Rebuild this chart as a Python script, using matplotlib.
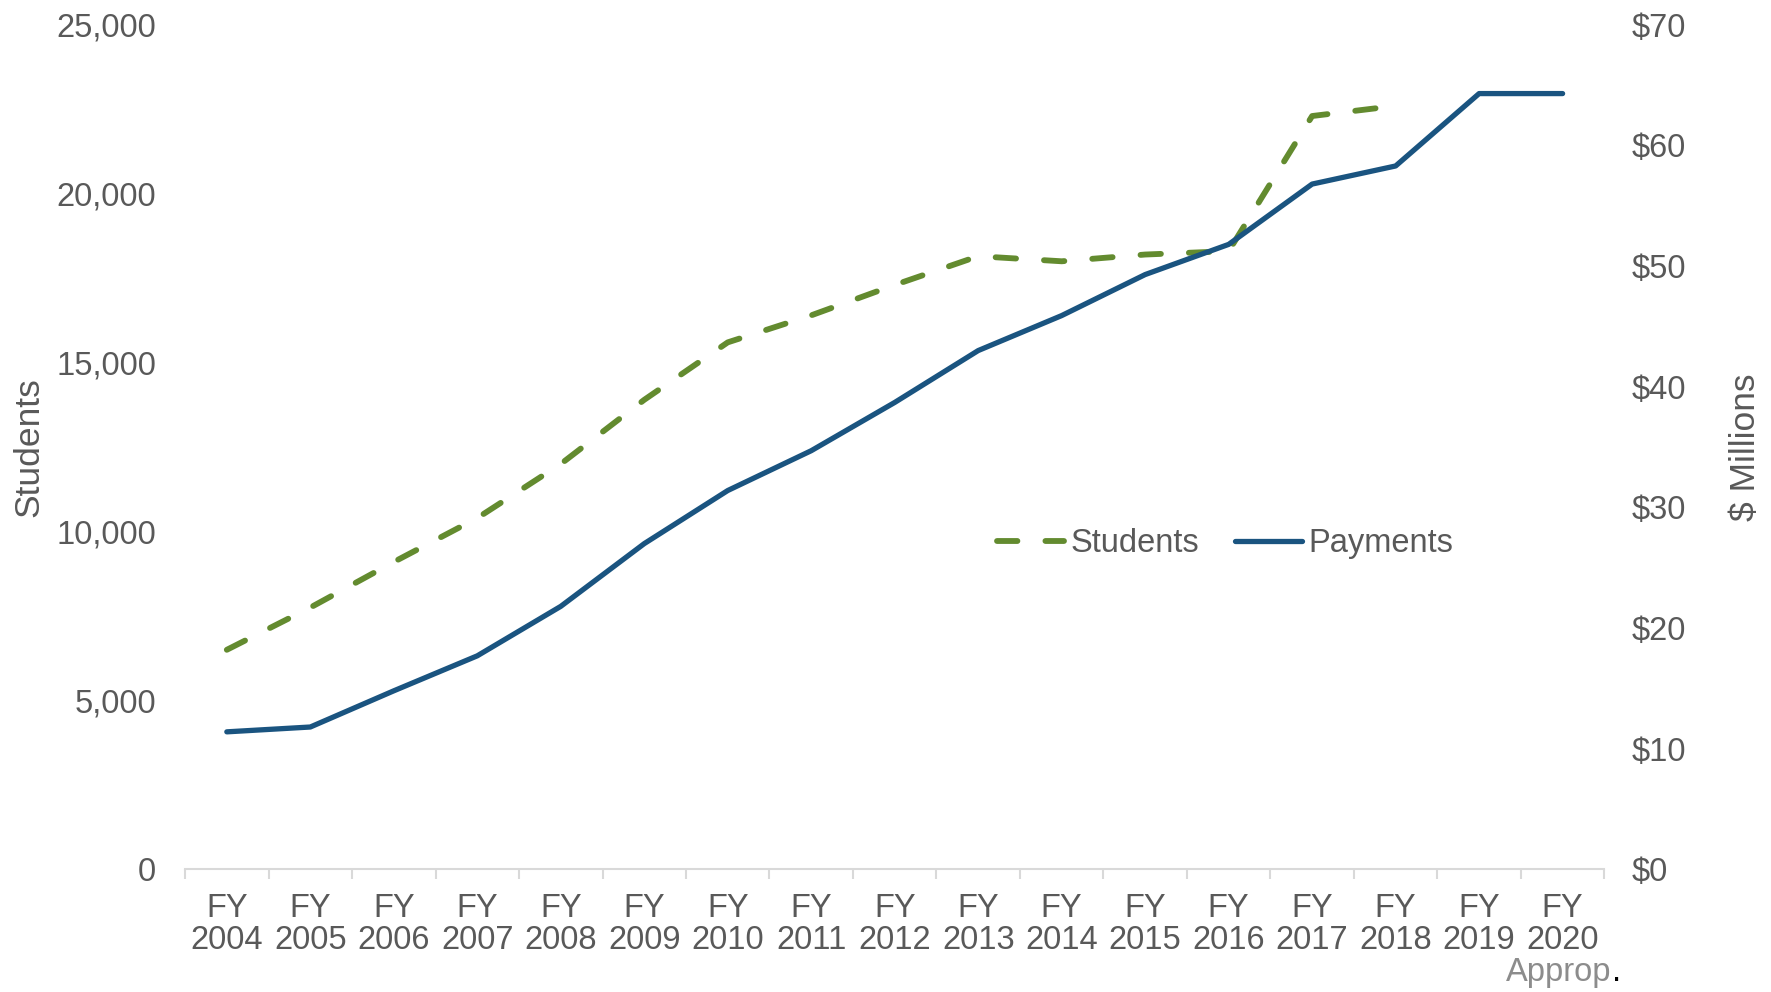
import matplotlib.pyplot as plt
import numpy as np

plt.rcParams["font.family"] = ["Liberation Sans", "DejaVu Sans"]

# === data ===
years = ["2004", "2005", "2006", "2007", "2008", "2009", "2010", "2011", "2012",
         "2013", "2014", "2015", "2016", "2017", "2018", "2019", "2020"]
students = [6500, 7750, 9100, 10400, 12000, 13900, 15600, 16400, 17300,
            18150, 18000, 18200, 18300, 22300, 22600, np.nan, np.nan]
payments = [11.4, 11.8, 14.8, 17.7, 21.8, 27.0, 31.4, 34.7, 38.7,
            43.0, 45.9, 49.3, 51.8, 56.8, 58.3, 64.3, 64.3]
left_ticks = [0, 5000, 10000, 15000, 20000, 25000]
right_ticks = [0, 10, 20, 30, 40, 50, 60, 70]

GREEN = "#638B2F"
BLUE = "#1A5480"
GREY = "#595959"
FS = 23.5

fig = plt.figure(figsize=(17.71, 9.92), dpi=100)
ax = fig.add_axes([0.1045, 0.1236, 0.8014, 0.8514])
ax2 = ax.twinx()

x = np.arange(len(years))
l1, = ax.plot(x, students, color=GREEN, lw=4.2, ls=(0, (3.5, 4.8)),
              dash_capstyle="round", label="Students", zorder=3)
l2, = ax2.plot(x, payments, color=BLUE, lw=3.8, solid_capstyle="round",
               label="Payments", zorder=3)

ax.set_xlim(-0.5, len(years) - 0.5)
ax.set_ylim(0, 25000)
ax2.set_ylim(0, 70)

ax.set_yticks(left_ticks)
ax.set_yticklabels([f"{v:,}" for v in left_ticks])
ax2.set_yticks(right_ticks)
ax2.set_yticklabels([f"${v}" for v in right_ticks])

ax.set_xticks(x)
ax.set_xticklabels([f"FY\n{y}" for y in years], linespacing=1.05)
ax.set_xticks(np.arange(-0.5, len(years)), minor=True)

for a in (ax, ax2):
    for s in ("top", "left", "right"):
        a.spines[s].set_visible(False)
    a.spines["bottom"].set_color("#D9D9D9")
    a.spines["bottom"].set_linewidth(1.5)

ax.tick_params(axis="x", which="major", length=0, pad=17, labelsize=FS, labelcolor=GREY)
ax.tick_params(axis="x", which="minor", length=7, width=1.5, color="#D9D9D9", direction="out")
ax.tick_params(axis="y", length=0, pad=21, labelsize=FS, labelcolor=GREY)
ax2.tick_params(axis="y", length=0, pad=19.5, labelsize=FS, labelcolor=GREY)
ax2.spines["bottom"].set_visible(False)

ax.set_ylabel("Students", fontsize=25.5, color=GREY, labelpad=8)
ax2.set_ylabel("$ Millions", fontsize=25.5, color=GREY, labelpad=31)

# "Approp." note under the last tick, grey word with a black period
fig.text(0.910, 0.004, "Approp", fontsize=FS, color="#8C8C8C", ha="right", va="bottom")
fig.text(0.910, 0.004, ".", fontsize=FS, color="black", ha="left", va="bottom")

fig.legend(handles=[l1, l2], loc="center", bbox_to_anchor=(0.692, 0.452), ncol=2,
           frameon=False, fontsize=FS, labelcolor=GREY, handlelength=2.05,
           handletextpad=0.2, columnspacing=1.1)

fig.savefig("out.png", dpi=100)
